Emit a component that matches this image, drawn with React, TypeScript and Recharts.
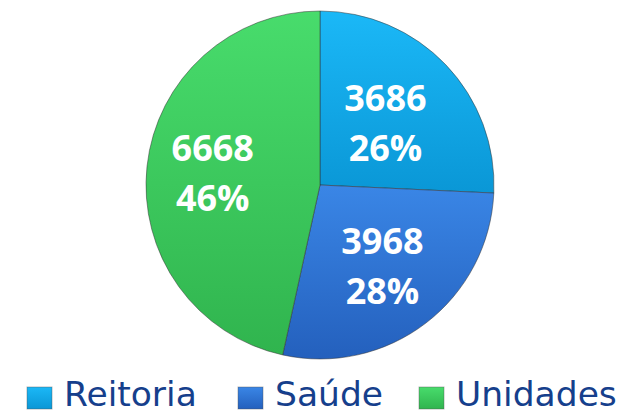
import { PieChart, Pie, Cell } from "recharts"

const categories = ["Reitoria", "Saúde", "Unidades"]
const values = [3686, 3968, 6668]
const percentLabels = ["26%", "28%", "46%"]

const gradients = [
  { id: "gReitoria", top: "#1bb8f7", bottom: "#0a97d6" },
  { id: "gSaude", top: "#3a86e6", bottom: "#2460bd" },
  { id: "gUnidades", top: "#48dc6c", bottom: "#30b44e" },
]

// label distance from centre, as a share of the radius
const labelRadius = [0.52, 0.59, 0.62]
// legend swatch left edges (px)
const legendX = [27, 238, 419]

const data = categories.map((name, i) => ({ name, value: values[i] }))

const RADIAN = Math.PI / 180

const renderLabel = (props: any) => {
  const { cx, cy, midAngle, outerRadius, index } = props
  const r = outerRadius * labelRadius[index]
  const x = cx + r * Math.cos(-midAngle * RADIAN)
  const y = cy + r * Math.sin(-midAngle * RADIAN)
  return (
    <text
      x={x}
      y={y}
      fill="#ffffff"
      textAnchor="middle"
      fontFamily="'Open Sans', sans-serif"
      fontWeight={700}
      fontSize={36}
    >
      <tspan x={x} dy={-12}>{values[index]}</tspan>
      <tspan x={x} dy={50}>{percentLabels[index]}</tspan>
    </text>
  )
}

export default function App() {
  return (
    <div style={{ position: "relative", width: 626, height: 414, background: "#ffffff" }}>
      <style>{`body{margin:0}`}</style>
      <PieChart width={626} height={414}>
        <defs>
          {gradients.map((g) => (
            <linearGradient key={g.id} id={g.id} x1="0" y1="0" x2="0" y2="1">
              <stop offset="0%" stopColor={g.top} />
              <stop offset="100%" stopColor={g.bottom} />
            </linearGradient>
          ))}
        </defs>
        <Pie
          data={data}
          dataKey="value"
          nameKey="name"
          cx={315}
          cy={180}
          outerRadius={174}
          startAngle={90}
          endAngle={-270}
          stroke="rgba(50,50,50,0.5)"
          strokeWidth={1}
          label={renderLabel}
          labelLine={false}
          isAnimationActive={false}
        >
          {data.map((d, i) => (
            <Cell key={d.name} fill={`url(#${gradients[i].id})`} />
          ))}
        </Pie>
      </PieChart>
      <svg
        width={626}
        height={414}
        style={{ position: "absolute", left: 0, top: 0, pointerEvents: "none" }}
      >
        {categories.map((c, i) => (
          <g key={c}>
            <rect
              x={legendX[i]}
              y={387}
              width={25}
              height={22}
              fill={`url(#${gradients[i].id})`}
              stroke="rgba(80,80,80,0.4)"
            />
            <text
              x={legendX[i] + 37}
              y={406}
              fontFamily="'DejaVu Sans', sans-serif"
              fontSize={34.5}
              fill="#163f8c"
            >
              {c}
            </text>
          </g>
        ))}
      </svg>
    </div>
  )
}
